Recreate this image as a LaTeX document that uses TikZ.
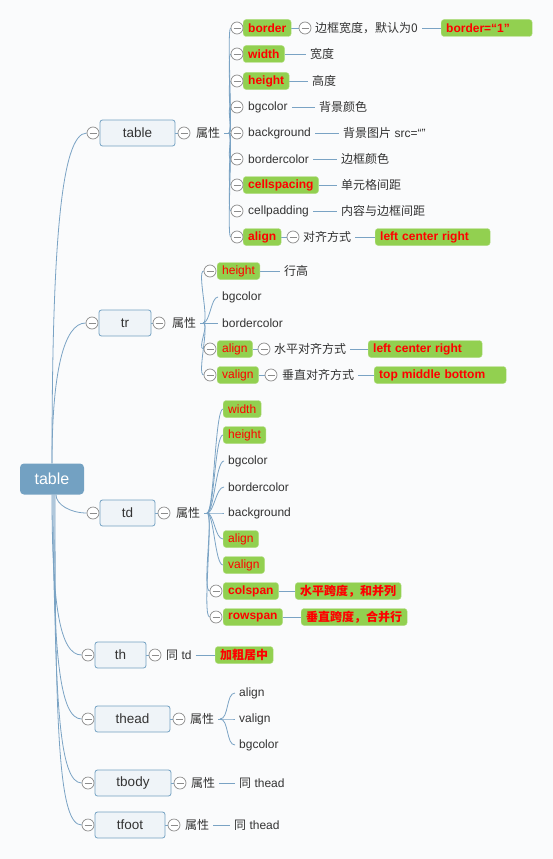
\documentclass[tikz,border=0pt]{standalone}
\usepackage{fontspec}
\setmainfont{Liberation Sans}
\newfontfamily\zhfont{Noto Sans CJK SC}
\newcommand{\hanzi}[1]{{\zhfont #1}}
\usetikzlibrary{calc}
\definecolor{pagebg}{RGB}{250,251,252}
\definecolor{linkblue}{RGB}{122,163,196}
\definecolor{rootblue}{RGB}{115,161,194}
\definecolor{topicfill}{RGB}{239,244,248}
\definecolor{foldgray}{RGB}{140,140,140}
\definecolor{txtgray}{RGB}{51,51,51}
\definecolor{hotgreen}{RGB}{146,208,80}
\definecolor{hotred}{RGB}{255,0,0}
\pgfdeclarelayer{bg}
\pgfdeclarelayer{edges}
\pgfsetlayers{bg,edges,main}
\tikzset{
  root/.style={fill=rootblue, rounded corners=4pt, text=white, minimum width=64pt,
    minimum height=31pt, font=\fontsize{16}{18}\selectfont},
  topic/.style={draw=rootblue, fill=topicfill, rounded corners=2.5pt, minimum height=26pt,
    text=txtgray, line width=0.8pt, font=\fontsize{13.5}{16}\selectfont},
  fold/.style={circle, draw=foldgray, fill=white, minimum size=12pt, inner sep=0pt, line width=0.7pt,
    path picture={\draw[foldgray, line width=0.7pt]
      ([xshift=-3.5pt]path picture bounding box.center) -- ([xshift=3.5pt]path picture bounding box.center);}},
  leaf/.style={anchor=west, inner xsep=4pt, inner ysep=2pt, text=txtgray,
    font=\fontsize{12}{14}\selectfont},
  hotbox/.style={anchor=west, fill=hotgreen, draw=hotgreen!70!white, rounded corners=3pt,
    minimum height=17pt, inner xsep=5pt, inner ysep=1pt, text=hotred,
    font=\fontsize{12}{14}\selectfont},
  hotbold/.style={hotbox, font=\fontsize{12}{14}\selectfont\bfseries},
  hotwide/.style={hotbold, text width=#1, align=left},
  link/.style={draw=linkblue, line width=0.8pt},
}
\begin{document}
\begin{tikzpicture}[x=1pt,y=1pt]
\begin{pgfonlayer}{bg}
  \fill[pagebg] (0,0) rectangle (553,-859);
\end{pgfonlayer}
\useasboundingbox (0,0) rectangle (553,-859);

% Root
\node[root] (root) at (52,-479) {table};

% table
\node[topic, minimum width=75pt] (table) at (137.5,-133) {table};
\node[fold] (f-table) at (93,-133) {};
\node[fold] (tb-a-f) at (184,-133) {};
\node[leaf] (tb-a) at (192,-133) {\hanzi{属性}};
\coordinate (tb-b) at (229,-133);
\node[hotbold] (tb-border) at (243,-28) {border};
\node[hotbold] (tb-width) at (243,-54) {width};
\node[hotbold] (tb-height) at (243,-81) {height};
\node[leaf] (tb-bgcolor) at (244,-107) {bgcolor};
\node[leaf] (tb-background) at (244,-133) {background};
\node[leaf] (tb-bordercolor) at (244,-159) {bordercolor};
\node[hotbold] (tb-cellspacing) at (243,-185) {cellspacing};
\node[leaf] (tb-cellpadding) at (244,-211) {cellpadding};
\node[hotbold] (tb-align) at (243,-237) {align};
\foreach \n/\y in {border/28,width/54,height/81,bgcolor/107,background/133,
    bordercolor/159,cellspacing/185,cellpadding/211,align/237}
  \node[fold] (tb-\n-f) at (237,-\y) {};
\node[fold] (tb-border-df) at (305,-28) {};
\node[leaf] (tb-border-d) at (311,-28) {\hanzi{边框宽度，默认为0}};
\node[hotwide=81pt] (tb-border-v) at (441,-28) {border=“1”};
\node[leaf] (tb-width-d) at (306,-54) {\hanzi{宽度}};
\node[leaf] (tb-height-d) at (308,-81) {\hanzi{高度}};
\node[leaf] (tb-bgcolor-d) at (315,-107) {\hanzi{背景颜色}};
\node[leaf] (tb-background-d) at (339,-133) {\hanzi{背景图片} src=“”};
\node[leaf] (tb-bordercolor-d) at (337,-159) {\hanzi{边框颜色}};
\node[leaf] (tb-cellspacing-d) at (337,-185) {\hanzi{单元格间距}};
\node[leaf] (tb-cellpadding-d) at (337,-211) {\hanzi{内容与边框间距}};
\node[fold] (tb-align-df) at (293,-237) {};
\node[leaf] (tb-align-d) at (299,-237) {\hanzi{对齐方式}};
\node[hotwide=105pt] (tb-align-v) at (375,-237) {left center right};

% tr
\node[topic, minimum width=52pt] (tr) at (125,-323) {tr};
\node[fold] (f-tr) at (92,-323) {};
\node[fold] (tr-a-f) at (159,-323) {};
\node[leaf] (tr-a) at (168,-323) {\hanzi{属性}};
\coordinate (tr-b) at (203,-323);
\node[hotbox] (tr-height) at (217,-271) {height};
\node[leaf] (tr-bgcolor) at (218,-297) {bgcolor};
\node[leaf] (tr-bordercolor) at (218,-323) {bordercolor};
\node[hotbox] (tr-align) at (217,-349) {align};
\node[hotbox] (tr-valign) at (217,-375) {valign};
\foreach \n/\y in {height/271,align/349,valign/375}
  \node[fold] (tr-\n-f) at (210,-\y) {};
\node[leaf] (tr-height-d) at (280,-271) {\hanzi{行高}};
\node[fold] (tr-align-df) at (264,-349) {};
\node[leaf] (tr-align-d) at (270,-349) {\hanzi{水平对齐方式}};
\node[hotwide=104pt] (tr-align-v) at (368,-349) {left center right};
\node[fold] (tr-valign-df) at (271,-375) {};
\node[leaf] (tr-valign-d) at (278,-375) {\hanzi{垂直对齐方式}};
\node[hotwide=122pt] (tr-valign-v) at (374,-375) {top middle bottom};

% td
\node[topic, minimum width=55pt] (td) at (127.5,-513) {td};
\node[fold] (f-td) at (93,-513) {};
\node[fold] (td-a-f) at (164,-513) {};
\node[leaf] (td-a) at (172,-513) {\hanzi{属性}};
\coordinate (td-b) at (207,-513);
\node[hotbox] (td-width) at (223,-409) {width};
\node[hotbox] (td-height) at (223,-435) {height};
\node[leaf] (td-bgcolor) at (224,-461) {bgcolor};
\node[leaf] (td-bordercolor) at (224,-487) {bordercolor};
\node[leaf] (td-background) at (224,-513) {background};
\node[hotbox] (td-align) at (223,-539) {align};
\node[hotbox] (td-valign) at (223,-565) {valign};
\node[hotbold] (td-colspan) at (223,-591) {colspan};
\node[hotbold] (td-rowspan) at (223,-617) {rowspan};
\node[fold] (td-colspan-f) at (216,-591) {};
\node[fold] (td-rowspan-f) at (216,-617) {};
\node[hotbold] (td-colspan-d) at (295,-591) {\hanzi{水平跨度，和并列}};
\node[hotbold] (td-rowspan-d) at (301,-617) {\hanzi{垂直跨度，合并行}};

% th
\node[topic, minimum width=51pt] (th) at (120.5,-655) {th};
\node[fold] (f-th) at (88,-655) {};
\node[fold] (th-a-f) at (155,-655) {};
\node[leaf] (th-a) at (162,-655) {\hanzi{同} td};
\node[hotbold] (th-v) at (215,-655) {\hanzi{加粗居中}};

% thead
\node[topic, minimum width=75pt] (thead) at (132.5,-719) {thead};
\node[fold] (f-thead) at (88,-719) {};
\node[fold] (thd-a-f) at (179,-719) {};
\node[leaf] (thd-a) at (186,-719) {\hanzi{属性}};
\coordinate (thd-b) at (220,-719);
\foreach \n/\y in {align/693,valign/719,bgcolor/745}
  \node[leaf] (thd-\n) at (235,-\y) {\n};

% tbody
\node[topic, minimum width=76pt] (tbody) at (133,-783) {tbody};
\node[fold] (f-tbody) at (88,-783) {};
\node[fold] (tbd-a-f) at (180,-783) {};
\node[leaf] (tbd-a) at (187,-783) {\hanzi{属性}};
\node[leaf] (tbd-d) at (235,-783) {\hanzi{同} thead};

% tfoot
\node[topic, minimum width=70pt] (tfoot) at (130,-825) {tfoot};
\node[fold] (f-tfoot) at (88,-825) {};
\node[fold] (tft-a-f) at (174,-825) {};
\node[leaf] (tft-a) at (181,-825) {\hanzi{属性}};
\node[leaf] (tft-d) at (230,-825) {\hanzi{同} thead};

\begin{pgfonlayer}{edges}
  % root to topics
  \draw[link] (root.north) .. controls +(0,213) and +(-26,0) .. (f-table.west);
  \draw[link] (root.north) .. controls +(0,90) and +(-22,0) .. (f-tr.west);
  \draw[link] ([xshift=4pt]root.south) .. controls +(0,-10) and +(-16,0) .. (f-td.west);
  \draw[link] (root.south) .. controls +(0,-110) and +(-22,0) .. (f-th.west);
  \draw[link] ([xshift=1pt]root.south) .. controls +(0,-160) and +(-22,0) .. (f-thead.west);
  \draw[link] ([xshift=2pt]root.south) .. controls +(0,-210) and +(-22,0) .. (f-tbody.west);
  \draw[link] ([xshift=3pt]root.south) .. controls +(0,-245) and +(-22,0) .. (f-tfoot.west);
  % topics to attributes
  \draw[link] (table) -- (tb-a-f);
  \draw[link] (tb-a) -- (tb-b);
  \draw[link] (tr) -- (tr-a-f);
  \draw[link] (tr-a) -- (tr-b);
  \draw[link] (td) -- (td-a-f);
  \draw[link] (td-a) -- (td-b);
  \draw[link] (th) -- (th-a-f);
  \draw[link] (th-a) -- (th-v);
  \draw[link] (thead) -- (thd-a-f);
  \draw[link] (thd-a) -- (thd-b);
  \draw[link] (tbody) -- (tbd-a-f);
  \draw[link] (tbd-a) -- (tbd-d);
  \draw[link] (tfoot) -- (tft-a-f);
  \draw[link] (tft-a) -- (tft-d);
  % attribute fans
  \foreach \n in {border,width,height,bgcolor,background,bordercolor,cellspacing,cellpadding,align}
    \draw[link] (tb-b) .. controls +(4,0) and +(-4,0) .. (tb-\n-f.west);
  \foreach \t in {tr-height-f,tr-bgcolor,tr-bordercolor,tr-align-f,tr-valign-f}
    \draw[link] (tr-b) .. controls +(7,0) and +(-7,0) .. (\t.west);
  \foreach \t in {td-width,td-height,td-bgcolor,td-bordercolor,td-background,td-align,td-valign,
      td-colspan-f,td-rowspan-f}
    \draw[link] (td-b) .. controls +(7,0) and +(-8,0) .. (\t.west);
  \foreach \n in {align,valign,bgcolor}
    \draw[link] (thd-b) .. controls +(9,0) and +(-9,0) .. (thd-\n.west);
  % values
  \draw[link] (tb-border) -- (tb-border-df);
  \draw[link] (tb-border-d) -- (tb-border-v);
  \draw[link] (tb-align) -- (tb-align-df);
  \draw[link] (tb-align-d) -- (tb-align-v);
  \foreach \n in {width,height,bgcolor,background,bordercolor,cellspacing,cellpadding}
    \draw[link] (tb-\n) -- (tb-\n-d);
  \draw[link] (tr-height) -- (tr-height-d);
  \draw[link] (tr-align) -- (tr-align-df);
  \draw[link] (tr-align-d) -- (tr-align-v);
  \draw[link] (tr-valign) -- (tr-valign-df);
  \draw[link] (tr-valign-d) -- (tr-valign-v);
  \draw[link] (td-colspan) -- (td-colspan-d);
  \draw[link] (td-rowspan) -- (td-rowspan-d);
\end{pgfonlayer}
\end{tikzpicture}
\end{document}
